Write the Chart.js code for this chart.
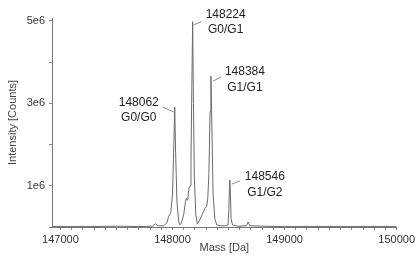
<!DOCTYPE html>
<html>
<head>
<meta charset="utf-8">
<script src="https://cdn.jsdelivr.net/npm/chart.js@4"></script>
<style>
  html, body { margin: 0; padding: 0; background: #fff; }
</style>
</head>
<body>
<canvas id="massChart" width="418" height="257"></canvas>
<script>
// deconvoluted spectrum, intensity in units of 1e6 counts
const mass = [
  146925, 147300, 147500, 147700, 147820, 147850, 147865, 147920, 147950, 147965,
  147985, 148000, 148012, 148020, 148028, 148040, 148055, 148065, 148080, 148100,
  148115, 148125, 148135, 148148, 148158, 148165, 148173, 148180, 148187, 148195,
  148208, 148222, 148240, 148265, 148290, 148305, 148315, 148325, 148335, 148343,
  148351, 148362, 148378, 148395, 148430, 148470, 148495, 148503, 148508, 148512,
  148517, 148523, 148535, 148580, 148660, 148675, 148690, 148800, 149000, 149500,
  150000
];
const intensity = [
  0.01, 0.01, 0.02, 0.01, 0.02, 0.08, 0.03, 0.03, 0.10, 0.25,
  0.35, 0.80, 2.00, 2.91, 1.80, 0.60, 0.15, 0.05, 0.10, 0.30,
  0.60, 0.70, 0.65, 0.95, 1.00, 1.60, 3.50, 4.98, 3.00, 1.20,
  0.30, 0.07, 0.15, 0.30, 0.45, 0.50, 0.70, 1.30, 2.80, 3.66,
  2.50, 0.80, 0.20, 0.05, 0.03, 0.03, 0.05, 0.40, 1.00, 1.14,
  0.80, 0.20, 0.05, 0.02, 0.03, 0.12, 0.03, 0.02, 0.01, 0.01,
  0.01
];

const peakMass = [148020, 148180, 148343, 148512];
const peakText = ['148062', '148224', '148384', '148546'];
const glycoText = ['G0/G0', 'G0/G1', 'G1/G1', 'G1/G2'];

const xMajor = [147000, 148000, 149000, 150000];
const yTicks = [0, 1, 2, 3, 4, 5];
const yLabelled = [1, 3, 5];

// label placement relative to the peak top (pixels)
const labelOffset = [
  { cx: -36, y1: -4, y2: 11, lx1: -12, ly1: 0, lx2: -1, ly2: 5 },
  { cx: 33, y1: -7, y2: 8, lx1: 1, ly1: 3, lx2: 9, ly2: 0 },
  { cx: 34, y1: -4, y2: 12, lx1: 2, ly1: 5, lx2: 10, ly2: 1 },
  { cx: 35, y1: -3, y2: 13, lx1: 2, ly1: 4, lx2: 10, ly2: 1 }
];

const fontFam = '"Liberation Sans", Arial, sans-serif';

const peakLabels = {
  id: 'peakLabels',
  afterDatasetsDraw(chart) {
    const ctx = chart.ctx;
    const xs = chart.scales.x, ys = chart.scales.y;
    ctx.save();
    ctx.font = '12px ' + fontFam;
    ctx.fillStyle = '#222';
    ctx.textAlign = 'center';
    ctx.textBaseline = 'middle';
    ctx.strokeStyle = '#888';
    ctx.lineWidth = 1;
    peakMass.forEach((m, i) => {
      const idx = mass.indexOf(m);
      const px = xs.getPixelForValue(m);
      const py = ys.getPixelForValue(intensity[idx]);
      const o = labelOffset[i];
      ctx.beginPath();
      ctx.moveTo(px + o.lx1, py + o.ly1);
      ctx.lineTo(px + o.lx2, py + o.ly2);
      ctx.stroke();
      ctx.fillText(peakText[i], px + o.cx, py + o.y1);
      ctx.fillText(glycoText[i], px + o.cx, py + o.y2);
    });
    ctx.restore();
  }
};

const ctx = document.getElementById('massChart').getContext('2d');
const massChart = new Chart(ctx, {
  type: 'line',
  data: {
    datasets: [{
      data: mass.map((m, i) => ({ x: m, y: intensity[i] })),
      borderColor: '#6a6a6a',
      borderWidth: 1,
      pointRadius: 0,
      tension: 0
    }]
  },
  options: {
    responsive: false,
    animation: false,
    layout: { padding: { top: 18, right: 19, left: 0, bottom: 0 } },
    scales: {
      x: {
        type: 'linear',
        min: 146925,
        max: 150000,
        afterBuildTicks: scale => {
          const t = [];
          for (let v = xMajor[0]; v <= xMajor[xMajor.length - 1]; v += 100) t.push({ value: v });
          scale.ticks = t;
        },
        afterFit: scale => { scale.height = 30; },
        ticks: {
          autoSkip: false,
          maxRotation: 0,
          padding: 3,
          color: '#333',
          font: { family: fontFam, size: 11 },
          callback: v => xMajor.includes(v) ? String(v) : ''
        },
        grid: { drawOnChartArea: false, tickLength: 3, color: '#888' },
        border: { color: '#777' },
        title: {
          display: true,
          text: 'Mass [Da]',
          color: '#444',
          font: { family: fontFam, size: 11 },
          padding: { top: 0, bottom: 2 }
        }
      },
      y: {
        min: 0,
        max: 5.07,
        afterBuildTicks: scale => {
          scale.ticks = yTicks.map(v => ({ value: v }));
        },
        afterFit: scale => { scale.width = 52; },
        ticks: {
          autoSkip: false,
          padding: 4,
          color: '#333',
          font: { family: fontFam, size: 11 },
          callback: v => yLabelled.includes(v) ? v + 'e6' : ''
        },
        grid: { drawOnChartArea: false, tickLength: 3, color: '#888' },
        border: { color: '#777' },
        title: {
          display: true,
          text: 'Intensity [Counts]',
          color: '#444',
          font: { family: fontFam, size: 11 },
          padding: { top: 6, bottom: 0 }
        }
      }
    },
    plugins: {
      legend: { display: false },
      tooltip: { enabled: false }
    }
  },
  plugins: [peakLabels]
});
</script>
</body>
</html>
